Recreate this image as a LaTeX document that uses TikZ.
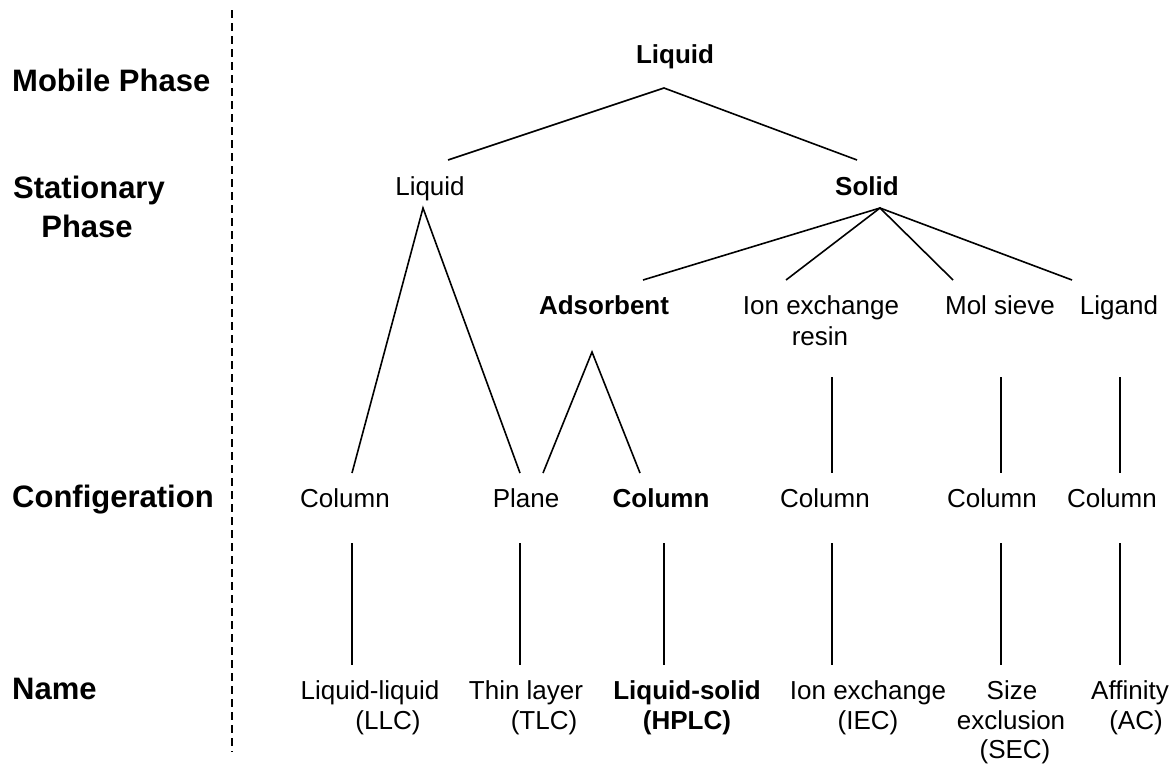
\documentclass[tikz,border=0pt]{standalone}
\usepackage{fontspec}
\setmainfont{Liberation Sans}
\begin{document}
\begin{tikzpicture}[x=1pt,y=-1pt,
  lbl/.style={font=\fontsize{31}{39}\selectfont\bfseries, inner sep=0, anchor=base west},
  lblc/.style={lbl, anchor=base},
  txt/.style={font=\fontsize{26}{31}\selectfont, inner sep=0, anchor=base},
  btxt/.style={txt, font=\fontsize{26}{31}\selectfont\bfseries},
  conn/.style={line width=1.6pt, line join=miter},
  divider/.style={line width=1.8pt, dash pattern=on 8pt off 5pt}]
\path[use as bounding box] (0,0) rectangle (1174,763);

% row labels
\node[lbl] (mob) at (12,91) {Mobile Phase};
\node[lblc] (sta1) at (89,198) {Stationary};
\node[lblc] (sta2) at (87,237) {Phase};
\node[lbl] (conf) at (12,507) {Configeration};
\node[lbl] (nam) at (12,699) {Name};

% divider
\coordinate (dtop) at (232,10);
\coordinate (dbot) at (232,752);
\draw[divider] (dtop) -- (dbot);

% tree nodes
\node[btxt] (mp) at (675,63) {Liquid};
\node[txt] (spl) at (430,195) {Liquid};
\node[btxt] (sps) at (867,195) {Solid};
\node[btxt] (ads) at (604,314) {Adsorbent};
\node[txt] (ion1) at (821,314) {Ion exchange};
\node[txt] (ion2) at (820,345) {resin};
\node[txt] (mol) at (1000,314) {Mol sieve};
\node[txt] (lig) at (1119,314) {Ligand};

\node[txt] (c1) at (345,507) {Column};
\node[txt] (c2) at (526,507) {Plane};
\node[btxt] (c3) at (661,507) {Column};
\node[txt] (c4) at (825,507) {Column};
\node[txt] (c5) at (992,507) {Column};
\node[txt] (c6) at (1112,507) {Column};

\node[txt] (n1a) at (370,699) {Liquid-liquid};
\node[txt] (n1b) at (388,729) {(LLC)};
\node[txt] (n2a) at (526,699) {Thin layer};
\node[txt] (n2b) at (544,729) {(TLC)};
\node[btxt] (n3a) at (687,699) {Liquid-solid};
\node[btxt] (n3b) at (687,729) {(HPLC)};
\node[txt] (n4a) at (868,699) {Ion exchange};
\node[txt] (n4b) at (868,729) {(IEC)};
\node[txt] (n5a) at (1012,699) {Size};
\node[txt] (n5b) at (1011,729) {exclusion};
\node[txt] (n5c) at (1015,758) {(SEC)};
\node[txt] (n6a) at (1130,699) {Affinity};
\node[txt] (n6b) at (1136,729) {(AC)};

% connector end points
\coordinate (mpA) at (664,88);
\coordinate (mpL) at (448,160);
\coordinate (mpR) at (857,160);
\coordinate (splA) at (423,208);
\coordinate (splL) at (352,473);
\coordinate (splR) at (520,473);
\coordinate (spsA) at (880,208);
\coordinate (spsB1) at (643,280);
\coordinate (spsB2) at (786,280);
\coordinate (spsB3) at (953,280);
\coordinate (spsB4) at (1072,280);
\coordinate (adsA) at (592,352);
\coordinate (adsL) at (543,473);
\coordinate (adsR) at (640,473);
\foreach \n/\x in {4/832,5/1001,6/1120}{
  \coordinate (u\n) at (\x,377);
  \coordinate (d\n) at (\x,473);
}
\foreach \n/\x in {1/352,2/520,3/664,4/832,5/1001,6/1120}{
  \coordinate (p\n) at (\x,543);
  \coordinate (q\n) at (\x,665);
}

% connectors
\draw[conn] (mpL) -- (mpA) -- (mpR);
\draw[conn] (splL) -- (splA) -- (splR);
\draw[conn] (spsB1) -- (spsA) -- (spsB4);
\draw[conn] (spsB2) -- (spsA) -- (spsB3);
\draw[conn] (adsL) -- (adsA) -- (adsR);
\foreach \n in {4,5,6}{\draw[conn] (u\n) -- (d\n);}
\foreach \n in {1,...,6}{\draw[conn] (p\n) -- (q\n);}
\end{tikzpicture}
\end{document}
